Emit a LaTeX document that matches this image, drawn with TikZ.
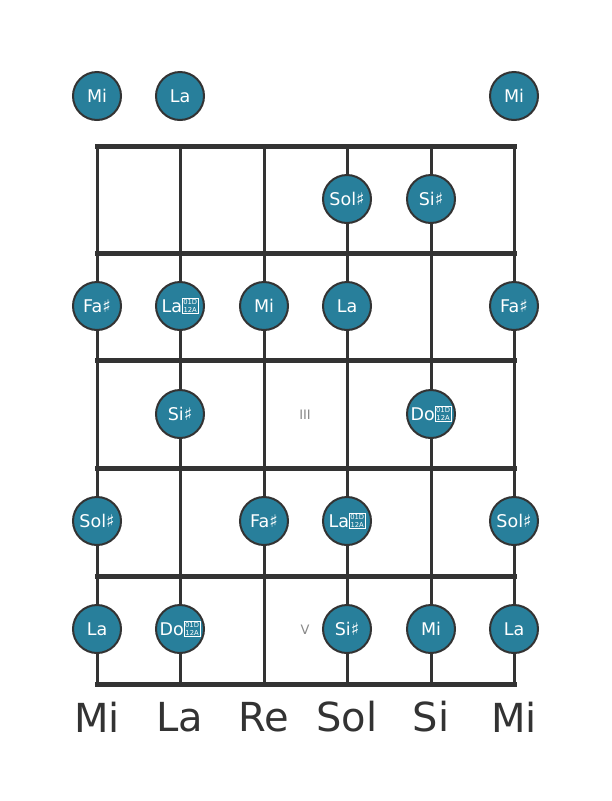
\documentclass[tikz,border=0pt]{standalone}
\usepackage{fontspec}
\setmainfont{DejaVu Sans}
\definecolor{notefill}{RGB}{40,127,155}
\definecolor{linegray}{RGB}{51,51,51}
\definecolor{markgray}{RGB}{136,136,136}
\newcommand{\dsharpbox}{{\setlength{\fboxsep}{0.7pt}\setlength{\fboxrule}{0.6pt}\raisebox{0.2pt}{\fbox{\fontsize{6.8}{6.2}\selectfont\shortstack{01D\\12A}}}}}
\tikzset{
  note/.style={circle, draw=linegray, line width=2pt, fill=notefill, minimum size=48pt, inner sep=0pt, text=white, font=\fontsize{17.5}{17.5}\selectfont},
  stringline/.style={draw=linegray, line width=3pt},
  fretline/.style={draw=linegray, line width=5pt, line cap=rect},
  strlabel/.style={text=linegray, font=\fontsize{40}{40}\selectfont},
  fretmark/.style={text=markgray, font=\fontsize{13}{13}\selectfont}
}
\begin{document}
\begin{tikzpicture}[x=1pt,y=-1pt]
\useasboundingbox (0,0) rectangle (611,801);
% string coordinates
\foreach \i/\x in {1/97,2/180,3/264,4/347,5/431,6/514}{
  \coordinate (s\i t) at (\x,146);
  \coordinate (s\i b) at (\x,684);
}
\foreach \i in {1,...,6}{ \draw[stringline] (s\i t) -- (s\i b); }
% frets
\foreach \j/\y in {0/146,1/253,2/360,3/468,4/576,5/684}{
  \coordinate (f\j l) at (97,\y);
  \coordinate (f\j r) at (514,\y);
  \draw[fretline] (f\j l) -- (f\j r);
}
% fret markers
\node[fretmark] (m3) at (305,415) {III};
\node[fretmark] (m5) at (305,630) {V};
% open notes
\node[note] (o1) at (97,96) {Mi};
\node[note] (o2) at (180,96) {La};
\node[note] (o6) at (514,96) {Mi};
% fret 1
\node[note] (n14) at (347,199) {Sol♯};
\node[note] (n15) at (431,199) {Si♯};
% fret 2
\node[note] (n21) at (97,306) {Fa♯};
\node[note] (n22) at (180,306) {La\dsharpbox};
\node[note] (n23) at (264,306) {Mi};
\node[note] (n24) at (347,306) {La};
\node[note] (n26) at (514,306) {Fa♯};
% fret 3
\node[note] (n32) at (180,414) {Si♯};
\node[note] (n35) at (431,414) {Do\dsharpbox};
% fret 4
\node[note] (n41) at (97,521) {Sol♯};
\node[note] (n43) at (264,521) {Fa♯};
\node[note] (n44) at (347,521) {La\dsharpbox};
\node[note] (n46) at (514,521) {Sol♯};
% fret 5
\node[note] (n51) at (97,629) {La};
\node[note] (n52) at (180,629) {Do\dsharpbox};
\node[note] (n54) at (347,629) {Si♯};
\node[note] (n55) at (431,629) {Mi};
\node[note] (n56) at (514,629) {La};
% string labels
\node[strlabel] (l1) at (97,717) {Mi};
\node[strlabel] (l2) at (180,717) {La};
\node[strlabel] (l3) at (264,717) {Re};
\node[strlabel] (l4) at (347,717) {Sol};
\node[strlabel] (l5) at (431,717) {Si};
\node[strlabel] (l6) at (514,717) {Mi};
\end{tikzpicture}
\end{document}
